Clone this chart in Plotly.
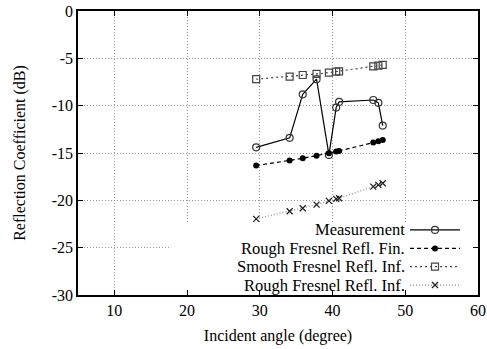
import plotly.graph_objects as go

# Incident angles (degree) and reflection coefficients (dB)
angles = [29.5, 34.1, 35.9, 37.8, 39.5, 40.5, 40.9, 45.6, 46.3, 46.9]
measurement = [-14.4, -13.4, -8.8, -7.2, -15.2, -10.2, -9.6, -9.4, -9.7, -12.1]
rough_fin = [-16.33, -15.8, -15.56, -15.28, -15.03, -14.85, -14.78, -13.9, -13.76, -13.62]
smooth_inf = [-7.2, -6.93, -6.76, -6.65, -6.51, -6.41, -6.37, -5.84, -5.77, -5.70]
rough_inf = [-21.96, -21.15, -20.84, -20.45, -20.06, -19.85, -19.78, -18.55, -18.37, -18.2]

series_names = ["Measurement", "Rough Fresnel Refl. Fin.",
                "Smooth Fresnel Refl. Inf.", "Rough Fresnel Refl. Inf."]

x_ticks = [10, 20, 30, 40, 50, 60]
y_ticks = [0, -5, -10, -15, -20, -25, -30]

FONT = "Liberation Serif"

styles = [
    dict(line=dict(color="black", width=1.2, dash="solid"),
         marker=dict(symbol="circle-open", size=7, color="#333", line=dict(width=1.2))),
    dict(line=dict(color="black", width=1.2, dash="4px,3px"),
         marker=dict(symbol="circle", size=6, color="black")),
    dict(line=dict(color="#444", width=1.2, dash="2px,3px"),
         marker=dict(symbol="square-open", size=7, color="#444", line=dict(width=1.2))),
    dict(line=dict(color="#888", width=1.2, dash="1px,2px"),
         marker=dict(symbol="x-thin-open", size=6, color="#222", line=dict(width=1.3))),
]
series = [measurement, rough_fin, smooth_inf, rough_inf]

fig = go.Figure()
for name, ys, st in zip(series_names, series, styles):
    fig.add_trace(go.Scatter(x=angles, y=ys, mode="lines+markers", name=name,
                             showlegend=False, **st))

# Opaque key background hiding the grid
fig.add_trace(go.Scatter(x=[0.233, 0.996, 0.996, 0.233, 0.233],
                         y=[0.004, 0.004, 0.257, 0.257, 0.004],
                         mode="lines", fill="toself", fillcolor="white",
                         line=dict(width=0, color="white"), xaxis="x2", yaxis="y2",
                         showlegend=False, hoverinfo="skip"))

# Key: text on the left, sample line with a marker on the right
key_rows = [0.229, 0.164, 0.100, 0.035]
for name, yk, st in zip(series_names, key_rows, styles):
    fig.add_trace(go.Scatter(x=[0.83, 0.955], y=[yk, yk], mode="lines",
                             line=st["line"], xaxis="x2", yaxis="y2",
                             showlegend=False, hoverinfo="skip"))
    fig.add_trace(go.Scatter(x=[0.8925], y=[yk], mode="markers",
                             marker=st["marker"], xaxis="x2", yaxis="y2",
                             showlegend=False, hoverinfo="skip"))
    fig.add_annotation(x=0.8226, y=yk, xref="paper", yref="paper", text=name,
                       showarrow=False, xanchor="right", yanchor="middle",
                       font=dict(family=FONT, size=16.5, color="black"))

axis_common = dict(
    showline=True, linecolor="black", linewidth=1.5, mirror="allticks",
    ticks="inside", ticklen=5, tickcolor="black", tickwidth=1,
    showgrid=True, gridcolor="#999", griddash="1px,2px", gridwidth=1,
    zeroline=False, automargin=False,
    tickfont=dict(family=FONT, size=16, color="black"),
)

fig.update_layout(
    width=487, height=349,
    margin=dict(l=78, r=9, t=11, b=54),
    paper_bgcolor="white", plot_bgcolor="white",
    showlegend=False,
    font=dict(family=FONT),
    xaxis=dict(range=[5, 60], tickvals=x_ticks, ticktext=[str(v) for v in x_ticks],
               title=dict(text="Incident angle (degree)", standoff=12,
                          font=dict(family=FONT, size=16, color="black")),
               **axis_common),
    yaxis=dict(range=[-30, 0], tickvals=y_ticks,
               ticktext=[str(v) for v in y_ticks],
               title=dict(text="Reflection Coefficient (dB)", standoff=22,
                          font=dict(family=FONT, size=16, color="black")),
               **axis_common),
    xaxis2=dict(range=[0, 1], overlaying="x", visible=False, fixedrange=True),
    yaxis2=dict(range=[0, 1], overlaying="y", visible=False, fixedrange=True),
)

fig.write_html("out.html")
